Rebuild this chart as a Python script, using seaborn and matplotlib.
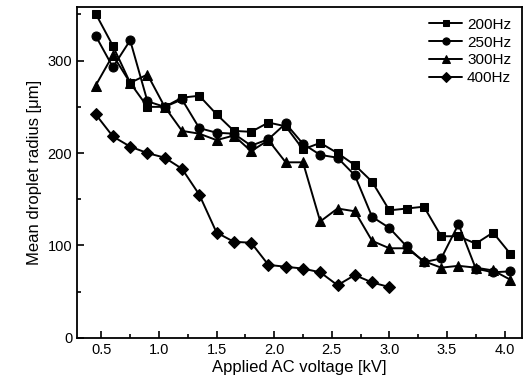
import pandas as pd
import matplotlib
matplotlib.use("Agg")
import matplotlib.pyplot as plt
from matplotlib.ticker import MultipleLocator
import seaborn as sns

# applied voltage [kV]
voltage = [0.45, 0.60, 0.75, 0.90, 1.05, 1.20, 1.35, 1.50, 1.65, 1.80, 1.95, 2.10, 2.25,
           2.40, 2.55, 2.70, 2.85, 3.00, 3.15, 3.30, 3.45, 3.60, 3.75, 3.90, 4.05]

# mean droplet radius [um]
r_200 = [351, 316, 276, 250, 250, 260, 262, 242, 224, 223, 233, 229, 204,
         211, 200, 187, 169, 138, 140, 142, 110, 110, 102, 114, 91]
r_250 = [327, 293, 322, 256, 250, 258, 227, 222, 221, 208, 215, 232, 210,
         198, 195, 176, 131, 119, 99, 82, 86, 123, 75, 71, 72]
r_300 = [273, 306, 276, 285, 250, 224, 221, 214, 219, 202, 214, 190, 190,
         126, 140, 137, 105, 97, 97, 83, 76, 78, 76, 73, 63]
r_400 = [242, 218, 207, 200, 195, 183, 155, 114, 104, 103, 79, 77, 75,
         71, 57, 68, 60, 55]

freqs = ["200Hz", "250Hz", "300Hz", "400Hz"]
series = [r_200, r_250, r_300, r_400]

rows = []
for f, vals in zip(freqs, series):
    for v, r in zip(voltage, vals):
        rows.append({"voltage": v, "radius": r, "freq": f})
df = pd.DataFrame(rows)

sns.set_style("ticks", {"axes.edgecolor": "black", "text.color": "black",
                        "axes.labelcolor": "black", "xtick.color": "black",
                        "ytick.color": "black"})
plt.rcParams['font.family'] = ['Liberation Sans', 'DejaVu Sans']

fig = plt.figure(figsize=(5.25, 3.92), dpi=100)
ax = fig.add_axes([0.147, 0.138, 0.847, 0.844])

markers = {"200Hz": "s", "250Hz": "o", "300Hz": "^", "400Hz": "D"}
sizes = {"200Hz": 6, "250Hz": 6.5, "300Hz": 7, "400Hz": 6}
for f in freqs:
    sub = df[df["freq"] == f]
    sns.lineplot(data=sub, x="voltage", y="radius", ax=ax, color="black",
                 marker=markers[f], markersize=sizes[f], markeredgecolor="black",
                 linewidth=1.4, label=f)

ax.set_xlim(0.29, 4.15)
ax.set_ylim(0, 358)
ax.xaxis.set_major_locator(MultipleLocator(0.5))
ax.xaxis.set_minor_locator(MultipleLocator(0.25))
ax.yaxis.set_major_locator(MultipleLocator(100))
ax.yaxis.set_minor_locator(MultipleLocator(50))
ax.tick_params(which="both", direction="in", labelsize=10.5, width=1.2, colors="black")
ax.tick_params(which="major", length=5)
ax.tick_params(which="minor", length=3)
ax.set_xticklabels([f"{t:.1f}" for t in ax.get_xticks()])
for s in ax.spines.values():
    s.set_linewidth(1.3)
    s.set_color("black")

ax.set_xlabel("Applied AC voltage [kV]", fontsize=12, labelpad=2, color="black")
ax.set_ylabel("Mean droplet radius [μm]", fontsize=12, labelpad=4, color="black")

leg = ax.legend(loc="upper right", frameon=False, fontsize=11, handlelength=2.2,
                handletextpad=0.3, labelspacing=0.25, borderaxespad=0.3,
                markerscale=0.8)
for t in leg.get_texts():
    t.set_color("black")

fig.savefig("out.png", dpi=100)
